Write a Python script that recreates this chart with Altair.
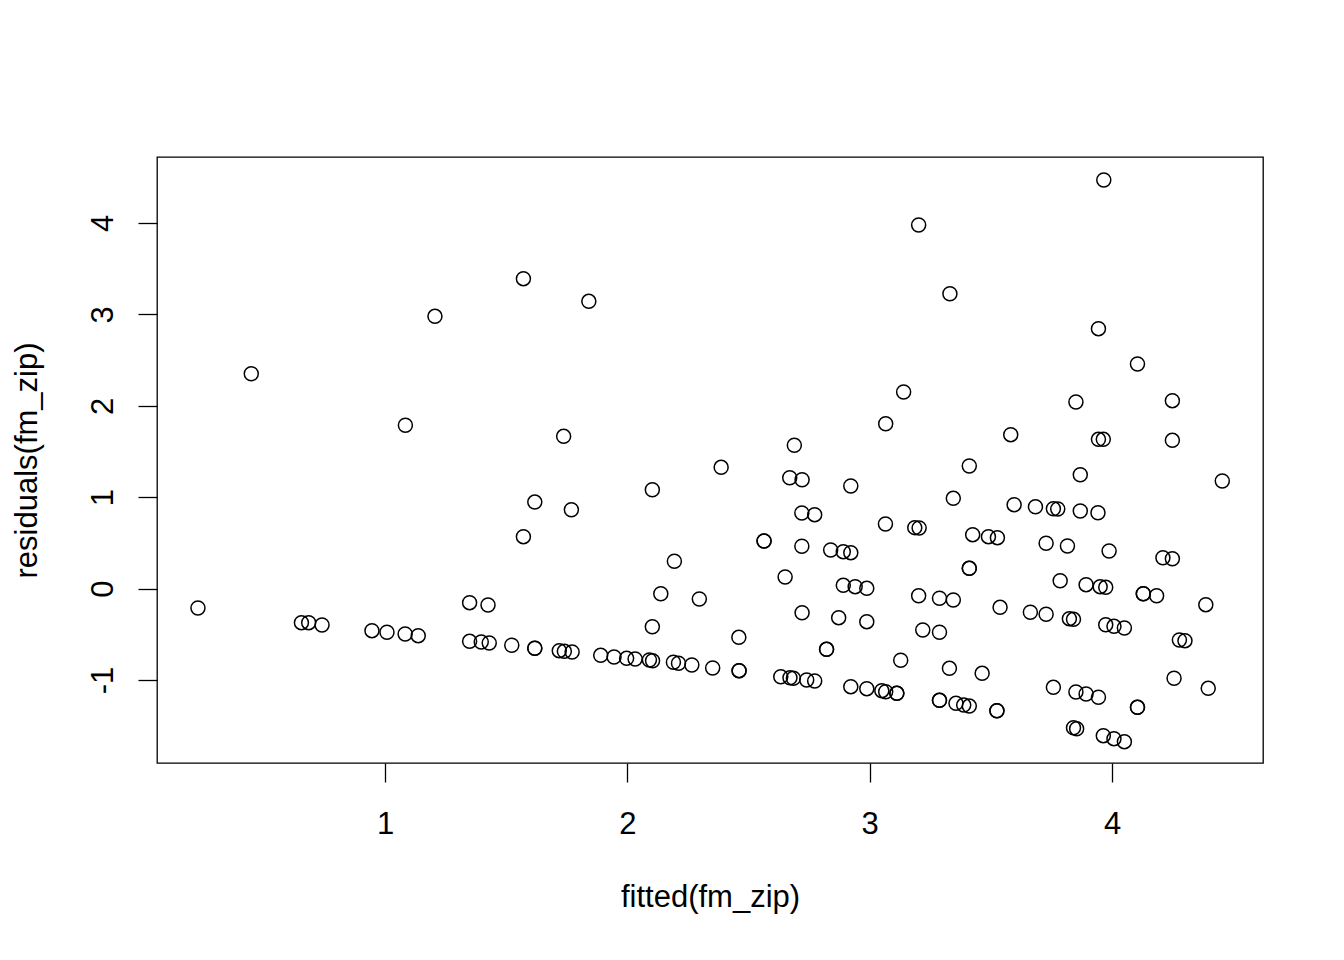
import altair as alt
import pandas as pd

fitted = [
    0.228, 0.448, 0.655, 0.685, 0.740, 0.946, 1.008, 1.083, 1.084, 1.137,
    1.206, 1.349, 1.425, 1.349, 1.397, 1.430, 1.523, 1.571, 1.571, 1.618,
    1.618, 1.618, 1.719, 1.740, 1.772, 1.737, 1.769, 1.841, 1.890, 1.945,
    1.997, 2.032, 2.091, 2.104, 2.103, 2.103, 2.138, 2.190, 2.211, 2.194,
    2.266, 2.297, 2.352, 2.387, 2.460, 2.461, 2.461, 2.564, 2.564, 2.633,
    2.651, 2.670, 2.671, 2.685, 2.689, 2.720, 2.720, 2.721, 2.721, 2.740,
    2.773, 2.773, 2.822, 2.822, 2.839, 2.872, 2.891, 2.891, 2.922, 2.922,
    2.922, 2.940, 2.988, 2.988, 2.988, 3.050, 3.065, 3.066, 3.066, 3.112,
    3.112, 3.128, 3.140, 3.186, 3.204, 3.202, 3.202, 3.219, 3.288, 3.288,
    3.288, 3.288, 3.329, 3.331, 3.345, 3.345, 3.356, 3.388, 3.411, 3.411,
    3.411, 3.411, 3.425, 3.464, 3.490, 3.525, 3.525, 3.527, 3.538, 3.582,
    3.596, 3.663, 3.684, 3.728, 3.728, 3.758, 3.758, 3.776, 3.786, 3.816,
    3.824, 3.841, 3.841, 3.851, 3.851, 3.854, 3.869, 3.869, 3.893, 3.893,
    3.942, 3.944, 3.944, 3.944, 3.951, 3.964, 3.964, 3.966, 3.974, 3.974,
    3.988, 4.008, 4.008, 4.051, 4.051, 4.105, 4.105, 4.105, 4.129, 4.129,
    4.184, 4.210, 4.249, 4.249, 4.249, 4.256, 4.278, 4.301, 4.387, 4.397,
    4.455,
]

residuals = [
    -0.212, 2.351, -0.373, -0.373, -0.398, -0.460, -0.478, -0.497, 1.787, -0.515,
    2.979, -0.154, -0.179, -0.577, -0.584, -0.595, -0.620, 3.391, 0.568, 0.947,
    -0.653, -0.653, -0.679, -0.686, -0.694, 1.666, 0.863, 3.143, -0.730, -0.748,
    -0.763, -0.770, -0.781, -0.789, 1.082, -0.417, -0.056, -0.806, -0.817, 0.299,
    -0.836, -0.114, -0.869, 1.327, -0.533, -0.898, -0.898, 0.521, 0.521, -0.964,
    0.127, 1.213, -0.975, -0.981, 1.568, 0.827, 0.463, 1.191, -0.264, -1.000,
    0.809, -1.011, -0.664, -0.664, 0.422, -0.318, 0.404, 0.036, 1.123, 0.393,
    -1.073, 0.021, 0.003, -0.362, -1.095, -1.117, 0.707, 1.804, -1.128, -1.146,
    -1.146, -0.784, 2.151, 0.667, 0.663, 3.978, -0.078, -0.453, -0.106, -0.478,
    -1.222, -1.222, -0.872, 3.226, 0.988, -0.125, -1.255, -1.274, -1.285, 1.341,
    0.222, 0.222, 0.590, -0.927, 0.568, -1.336, -1.336, 0.557, -0.205, 1.684,
    0.918, -0.259, 0.896, 0.496, -0.281, 0.874, -1.080, 0.871, 0.086, 0.466,
    -0.329, -0.336, -1.522, 2.042, -1.131, -1.533, 1.246, 0.849, 0.043, -1.153,
    0.830, 2.844, 1.633, -1.189, 0.021, 1.633, -1.609, 4.470, 0.014, -0.395,
    0.411, -0.413, -1.642, -0.431, -1.675, 2.457, -1.299, -1.299, -0.056, -0.056,
    -0.078, 0.338, 0.327, 2.056, 1.622, -0.981, -0.562, -0.570, -0.176, -1.091,
    1.177,
]

x_ticks = [1, 2, 3, 4]
y_ticks = [-1, 0, 1, 2, 3, 4]

df = pd.DataFrame({"fitted": fitted, "residuals": residuals})

FONT = "Liberation Sans"
FS = 31

chart = (
    alt.Chart(df)
    .mark_point(shape="circle", filled=False, color="black", size=196, strokeWidth=1.5, opacity=1)
    .encode(
        x=alt.X(
            "fitted:Q",
            scale=alt.Scale(domain=[0.059, 4.623], nice=False, zero=False),
            axis=alt.Axis(
                values=x_ticks,
                title="fitted(fm_zip)",
                domain=False,
                grid=False,
                tickSize=19,
                tickWidth=1.3,
                tickColor="black",
                labelFont=FONT,
                labelFontSize=FS,
                labelColor="black",
                labelBaseline="alphabetic",
                labelPadding=51,
                labelFlush=False,
                labelOverlap=False,
                labelExpr="'' + datum.value",
                titleFont=FONT,
                titleFontSize=FS,
                titleFontWeight="normal",
                titleColor="black",
                titleBaseline="alphabetic",
                titleAlign="center",
                titleX=553,
                titleY=143,
            ),
        ),
        y=alt.Y(
            "residuals:Q",
            scale=alt.Scale(domain=[-1.908, 4.722], nice=False, zero=False),
            axis=alt.Axis(
                values=y_ticks,
                title="residuals(fm_zip)",
                domain=False,
                grid=False,
                tickSize=19,
                tickWidth=1.3,
                tickColor="black",
                labelFont=FONT,
                labelFontSize=FS,
                labelColor="black",
                labelAngle=270,
                labelAlign="center",
                labelBaseline="alphabetic",
                labelPadding=26,
                labelFlush=False,
                labelOverlap=False,
                labelExpr="'' + datum.value",
                titleFont=FONT,
                titleFontSize=FS,
                titleFontWeight="normal",
                titleColor="black",
                titleAngle=270,
                titleAlign="center",
                titleBaseline="alphabetic",
                titleX=-121,
                titleY=303,
            ),
        ),
    )
    .properties(
        width=1106,
        height=606,
        autosize=alt.AutoSizeParams(type="none"),
        padding={"left": 149, "top": 149, "right": 73, "bottom": 189},
        background="white",
    )
    .configure_view(stroke="black", strokeWidth=1.3)
)

chart.save("out.html", embed_options={"renderer": "svg", "actions": False})
